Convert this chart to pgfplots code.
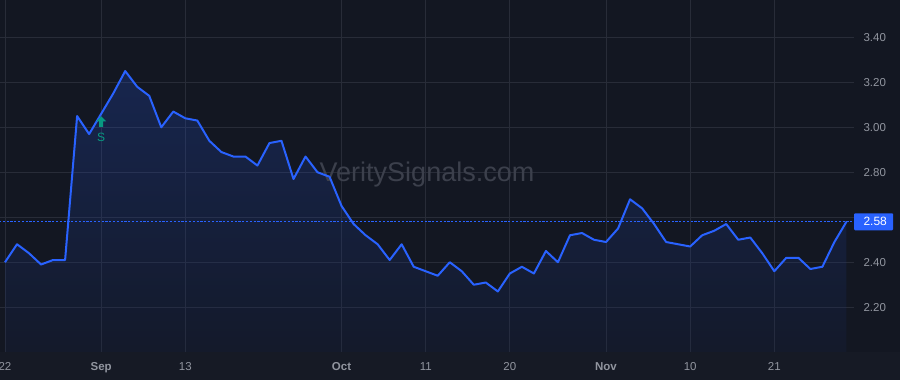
\documentclass[border=0pt]{standalone}
\usepackage{fontspec}
\setmainfont{Liberation Sans}
\usepackage{pgfplots}
\pgfplotsset{compat=1.18}
\usepackage{pgfplotstable}
\definecolor{bg}{RGB}{19,23,34}
\definecolor{band}{RGB}{22,26,37}
\definecolor{gridc}{RGB}{40,44,56}
\definecolor{ticktxt}{RGB}{145,149,159}
\definecolor{lineblue}{RGB}{41,98,255}
\definecolor{fillbot}{RGB}{24,38,79}
\definecolor{wm}{RGB}{60,64,76}
\definecolor{sig}{RGB}{8,153,129}

\pgfdeclareplotmark{sigup}{%
 \pgfpathmoveto{\pgfpoint{0pt}{5.5pt}}%
 \pgfpathlineto{\pgfpoint{-5pt}{0.5pt}}%
 \pgfpathlineto{\pgfpoint{-2pt}{0.5pt}}%
 \pgfpathlineto{\pgfpoint{-2pt}{-5pt}}%
 \pgfpathlineto{\pgfpoint{2pt}{-5pt}}%
 \pgfpathlineto{\pgfpoint{2pt}{0.5pt}}%
 \pgfpathlineto{\pgfpoint{5pt}{0.5pt}}%
 \pgfpathclose
 \pgfusepathqfill}

\pgfplotstableread{
i v
0 2.40
1 2.48
2 2.44
3 2.39
4 2.41
5 2.41
6 3.05
7 2.97
8 3.06
9 3.15
10 3.25
11 3.18
12 3.14
13 3.00
14 3.07
15 3.04
16 3.03
17 2.94
18 2.89
19 2.87
20 2.87
21 2.83
22 2.93
23 2.94
24 2.77
25 2.87
26 2.80
27 2.78
28 2.65
29 2.57
30 2.52
31 2.48
32 2.41
33 2.48
34 2.38
35 2.36
36 2.34
37 2.40
38 2.36
39 2.30
40 2.31
41 2.27
42 2.35
43 2.38
44 2.35
45 2.45
46 2.40
47 2.52
48 2.53
49 2.50
50 2.49
51 2.55
52 2.68
53 2.64
54 2.57
55 2.49
56 2.48
57 2.47
58 2.52
59 2.54
60 2.57
61 2.50
62 2.51
63 2.44
64 2.36
65 2.42
66 2.42
67 2.37
68 2.38
69 2.49
70 2.58
}\data

\begin{document}
\begin{tikzpicture}
\useasboundingbox (0,0) rectangle (900pt,380pt);
\fill[bg] (0,0) rectangle (900pt,380pt);
\fill[band] (0,0) rectangle (900pt,28pt);
\begin{axis}[
  at={(0pt,28pt)}, anchor=south west,
  scale only axis, width=854pt, height=352pt,
  xmin=-0.416, xmax=70.63, ymin=2.001, ymax=3.566,
  axis line style={draw=none}, major tick length=0pt,
  xtick={0,8,15,28,35,42,50,57,64},
  xticklabels={22,\textbf{Sep},13,\textbf{Oct},11,20,\textbf{Nov},10,21},
  ytick={2.2,2.4,2.6,2.8,3.0,3.2,3.4},
  yticklabels={2.20,2.40,,2.80,3.00,3.20,3.40},
  yticklabel pos=right,
  yticklabel style={xshift=6pt},
  xticklabel style={yshift=-7pt},
  tick label style={font=\fontsize{11.5}{13}\selectfont, text=ticktxt},
  grid=major, major grid style={draw=gridc, line width=1pt},
  clip mode=individual,
]
\addplot[draw=none, top color=lineblue, bottom color=fillbot, fill opacity=0.2]
  table[x=i,y=v]{\data} |- (0,2.001) -- cycle;
\node[font=\fontsize{27}{30}\selectfont, text=wm, anchor=base] at (rel axis cs:0.5,0.483) {VeritySignals.com};
\addplot[draw=lineblue, line width=1.4pt, dash pattern=on 2.2pt off 1.6pt] coordinates {(-0.5,2.58) (71,2.58)};
\addplot[draw=lineblue, line width=2pt, line join=round, mark=none] table[x=i,y=v]{\data};
\addplot[only marks, mark=sigup, color=sig, nodes near coords={S},
  every node near coord/.append style={font=\fontsize{12}{13}\selectfont, text=sig, anchor=center, yshift=-15.5pt}]
  coordinates {(8,3.024)};
\node[fill=lineblue, text=white, anchor=west, minimum width=39pt, minimum height=17pt, inner sep=0pt,
  rounded corners=1pt, font=\fontsize{12}{13}\selectfont] at (70.63,2.58) {\hspace{3pt}2.58};
\end{axis}
\end{tikzpicture}
\end{document}
